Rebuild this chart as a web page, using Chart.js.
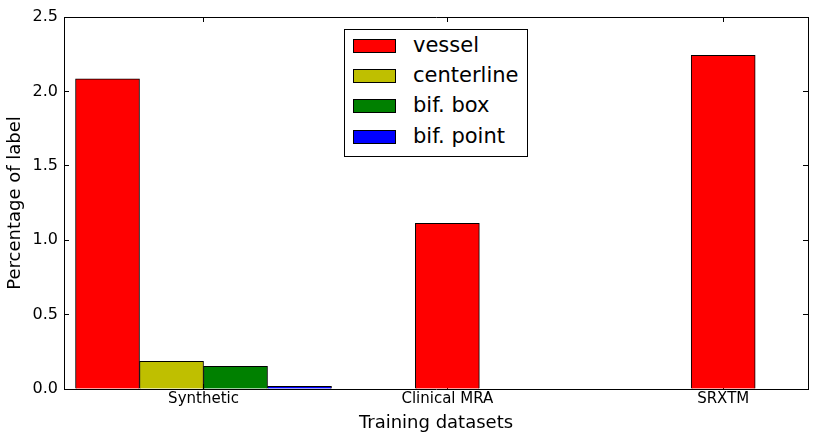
<!DOCTYPE html>
<html>
<head>
<meta charset="utf-8">
<script src="https://cdn.jsdelivr.net/npm/chart.js@4"></script>
<style>
  html, body { margin: 0; padding: 0; background: #fff; }
  #wrap { position: relative; width: 816px; height: 440px; }
  #legend { position: absolute; box-sizing: border-box; width: 184px; height: 128px;
            border: 1px solid #000; background: #fff; font-family: 'DejaVu Sans'; font-size: 21px; color: #000; }
  #legend .item { position: absolute; left: 0; height: 24px; width: 100%; }
  #legend .sw { position: absolute; left: 8px; top: 5px; width: 43px; height: 14px; box-sizing: border-box; border: 1px solid #000; }
  #legend .lb { position: absolute; left: 68px; top: -1px; line-height: 24px; white-space: nowrap; }
</style>
</head>
<body>
<div id="wrap">
  <canvas id="c" width="816" height="440"></canvas>
  <div id="legend"></div>
</div>
<script>
// ---- data ----
const categories = ['Synthetic', 'Clinical MRA', 'SRXTM'];
const seriesNames = ['vessel', 'centerline', 'bif. box', 'bif. point'];
const vessel     = [2.085, 1.113, 2.243];
const centerline = [0.186, 0, 0];
const bifBox     = [0.153, 0, 0];
const bifPoint   = [0.018, 0, 0];
const yTicks = [0.0, 0.5, 1.0, 1.5, 2.0, 2.5];

// ---- layout (in bar-width units) ----
const groupStart = [0.18, 5.49, 9.80];
const xMax = 11.625;
const colors = ['#ff0000', '#bfbf00', '#008000', '#0000ff'];
const seriesValues = [vessel, centerline, bifBox, bifPoint];

const tickPos = categories.map((c, ci) => {
  const n = seriesValues.filter(s => s[ci] > 0).length;
  return groupStart[ci] + n / 2;
});

const datasets = seriesValues.map((vals, si) => ({
  label: seriesNames[si],
  data: vals.map((v, ci) => ({ x: groupStart[ci] + si + 0.5, y: v })).filter(p => p.y > 0),
  backgroundColor: colors[si],
  borderColor: '#000',
  borderWidth: { top: 1, left: 1, right: 1, bottom: 0 },
  borderSkipped: 'start',
  barThickness: 64,
  grouped: false
}));

Chart.defaults.font.family = 'DejaVu Sans';
Chart.defaults.color = '#000';

const setXTicks = s => { s.ticks = tickPos.map(v => ({ value: v })); };
const setYTicks = s => { s.ticks = yTicks.map(v => ({ value: v })); };
const noPad = s => { s.paddingTop = 0; s.paddingBottom = 0; s.paddingLeft = 0; s.paddingRight = 0; };

const legendPlugin = {
  id: 'htmlLegend',
  afterRender(chart) {
    const el = document.getElementById('legend');
    if (!el.dataset.built) {
      chart.data.datasets.forEach((ds, i) => {
        const it = document.createElement('div');
        it.className = 'item';
        it.style.top = (4 + i * 30.2) + 'px';
        const sw = document.createElement('span');
        sw.className = 'sw';
        sw.style.background = ds.backgroundColor;
        const lb = document.createElement('span');
        lb.className = 'lb';
        lb.textContent = ds.label;
        it.appendChild(sw); it.appendChild(lb);
        el.appendChild(it);
      });
      el.dataset.built = '1';
    }
    const ca = chart.chartArea;
    el.style.left = ((ca.left + ca.right) / 2 - 92) + 'px';
    el.style.top = (ca.top + 12) + 'px';
  }
};

const gridBase = { display: true, drawOnChartArea: false, drawTicks: true, tickLength: -5, tickColor: '#000', tickWidth: 1 };
const borderBase = { display: true, color: '#000', width: 1 };

new Chart(document.getElementById('c'), {
  type: 'bar',
  data: { datasets },
  options: {
    responsive: false,
    animation: false,
    layout: { padding: { left: 0, top: 17, right: 8, bottom: 0 } },
    plugins: { legend: { display: false }, tooltip: { enabled: false } },
    scales: {
      x: {
        type: 'linear', position: 'bottom', min: 0, max: xMax, offset: false,
        grid: Object.assign({ offset: false }, gridBase), border: borderBase,
        afterBuildTicks: setXTicks,
        afterFit: s => { s.height = 51; noPad(s); },
        ticks: { font: { size: 15 }, color: '#000', padding: 6, maxRotation: 0, autoSkip: false,
                 callback: (v, i) => categories[i] },
        title: { display: true, text: 'Training datasets', font: { size: 18 }, color: '#000', padding: { top: 0, bottom: 6 } }
      },
      x2: {
        type: 'linear', position: 'top', min: 0, max: xMax, offset: false,
        grid: Object.assign({ offset: false }, gridBase), border: borderBase,
        afterBuildTicks: setXTicks,
        afterFit: s => { s.height = 0; noPad(s); },
        ticks: { display: false }
      },
      y: {
        type: 'linear', position: 'left', min: 0, max: 2.5,
        grid: gridBase, border: borderBase,
        afterBuildTicks: setYTicks,
        afterFit: s => { s.width = 64; noPad(s); },
        ticks: { font: { size: 16 }, color: '#000', padding: 11, callback: v => Number(v).toFixed(1) },
        title: { display: true, text: 'Percentage of label', font: { size: 18 }, color: '#000', padding: { top: 5, bottom: 0 } }
      },
      y2: {
        type: 'linear', position: 'right', min: 0, max: 2.5,
        grid: gridBase, border: borderBase,
        afterBuildTicks: setYTicks,
        afterFit: s => { s.width = 0; noPad(s); },
        ticks: { display: false }
      }
    }
  },
  plugins: [legendPlugin]
});
</script>
</body>
</html>
